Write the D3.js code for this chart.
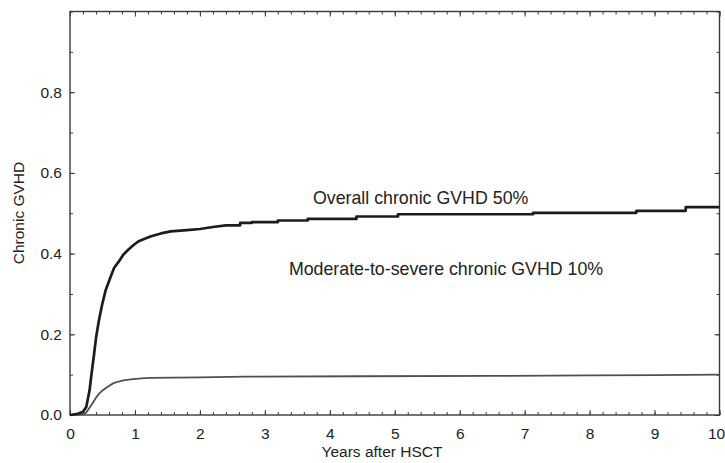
<!DOCTYPE html>
<html>
<head>
<meta charset="utf-8">
<script src="https://cdn.jsdelivr.net/npm/d3@7"></script>
<style>
  html, body { margin: 0; padding: 0; background: #fff; }
  svg text { font-family: "Liberation Sans", Arial, sans-serif; fill: #222; }
</style>
</head>
<body>
<svg id="chart" width="725" height="463"></svg>
<script>
// ---- data ----
const xTicks = [0, 1, 2, 3, 4, 5, 6, 7, 8, 9, 10];
const yTicks = [0.0, 0.2, 0.4, 0.6, 0.8];
const yTickLabels = ["0.0", "0.2", "0.4", "0.6", "0.8"];

// Overall chronic GVHD (years, cumulative incidence); repeated times mark step jumps
const overallTimes = [0, 0.12, 0.2, 0.25, 0.3, 0.33, 0.37, 0.4, 0.44, 0.49, 0.55, 0.62, 0.68, 0.75, 0.82, 0.9, 0.97, 1.05, 1.15, 1.25, 1.4, 1.55, 1.8, 2.0, 2.2, 2.4, 2.62, 2.62, 2.8, 2.8, 3.2, 3.2, 3.66, 3.66, 4.41, 4.41, 5.05, 5.05, 7.13, 7.13, 8.72, 8.72, 9.48, 9.48, 10];
const overallValues = [0, 0.003, 0.008, 0.02, 0.06, 0.10, 0.15, 0.19, 0.23, 0.27, 0.31, 0.34, 0.365, 0.38, 0.397, 0.41, 0.42, 0.43, 0.437, 0.443, 0.45, 0.455, 0.458, 0.461, 0.466, 0.47, 0.47, 0.476, 0.476, 0.478, 0.478, 0.482, 0.482, 0.486, 0.486, 0.492, 0.492, 0.4975, 0.4975, 0.501, 0.501, 0.506, 0.506, 0.515, 0.515];

// Moderate-to-severe chronic GVHD
const modTimes = [0, 0.2, 0.25, 0.3, 0.35, 0.41, 0.46, 0.51, 0.58, 0.67, 0.75, 0.82, 0.97, 1.1, 1.23, 2.0, 2.7, 4.5, 6.5, 8.0, 9.0, 10];
const modValues = [0, 0.002, 0.006, 0.018, 0.03, 0.045, 0.055, 0.062, 0.07, 0.079, 0.083, 0.086, 0.089, 0.091, 0.092, 0.093, 0.095, 0.096, 0.097, 0.098, 0.099, 0.1];

const annotationTexts = ["Overall chronic GVHD 50%", "Moderate-to-severe chronic GVHD 10%"];
const annotationT = [3.74, 3.37];
const annotationV = [0.522, 0.348];

// ---- layout ----
const svg = d3.select("#chart");
const mLeft = 70, mRight = 719.5, mTop = 11.5, mBottom = 415;

const x = d3.scaleLinear().domain([0, 10]).range([mLeft, mRight]);
const y = d3.scaleLinear().domain([0, 1]).range([mBottom, mTop]);

const axisColor = "#3a3a3a";

// minor ticks
const xMinor = d3.range(0, 10.001, 0.2);
const yMinor = d3.range(0, 1.001, 0.1);

function styleAxis(g) {
  g.select(".domain").remove();
  g.selectAll("line").attr("stroke", axisColor).attr("stroke-width", 1);
  g.selectAll("text").attr("fill", "#222").style("font-size", "15.5px")
    .style("font-family", "'Liberation Sans', Arial, sans-serif");
}

// bottom axis
const bottomAxis = svg.append("g").attr("transform", `translate(0,${mBottom})`)
  .call(d3.axisBottom(x).tickValues(xTicks).tickSizeInner(-5).tickSizeOuter(0).tickPadding(13).tickFormat(d3.format("d")))
  .call(styleAxis);
// keep the last label inside the page
bottomAxis.selectAll(".tick text").filter(d => d === 10).attr("dx", -3.5);

svg.append("g").attr("transform", `translate(0,${mBottom})`)
  .call(d3.axisBottom(x).tickValues(xMinor).tickSizeInner(-3).tickSizeOuter(0).tickFormat(""))
  .call(styleAxis);
// top axis ticks
svg.append("g").attr("transform", `translate(0,${mTop})`)
  .call(d3.axisTop(x).tickValues(xTicks).tickSizeInner(-5).tickSizeOuter(0).tickFormat(""))
  .call(styleAxis);
svg.append("g").attr("transform", `translate(0,${mTop})`)
  .call(d3.axisTop(x).tickValues(xMinor).tickSizeInner(-3).tickSizeOuter(0).tickFormat(""))
  .call(styleAxis);
// left axis
svg.append("g").attr("transform", `translate(${mLeft},0)`)
  .call(d3.axisLeft(y).tickValues(yTicks).tickSizeInner(-5).tickSizeOuter(0).tickPadding(8)
    .tickFormat((d, i) => yTickLabels[i]))
  .call(styleAxis);
svg.append("g").attr("transform", `translate(${mLeft},0)`)
  .call(d3.axisLeft(y).tickValues(yMinor).tickSizeInner(-3).tickSizeOuter(0).tickFormat(""))
  .call(styleAxis);
// right axis
svg.append("g").attr("transform", `translate(${mRight},0)`)
  .call(d3.axisRight(y).tickValues(yTicks).tickSizeInner(-5).tickSizeOuter(0).tickFormat(""))
  .call(styleAxis);
svg.append("g").attr("transform", `translate(${mRight},0)`)
  .call(d3.axisRight(y).tickValues(yMinor).tickSizeInner(-3).tickSizeOuter(0).tickFormat(""))
  .call(styleAxis);

// frame
svg.append("rect")
  .attr("x", mLeft).attr("y", mTop)
  .attr("width", mRight - mLeft).attr("height", mBottom - mTop)
  .attr("fill", "none").attr("stroke", axisColor).attr("stroke-width", 1.4);

// curves
const line = d3.line().x(d => x(d[0])).y(d => y(d[1])).curve(d3.curveLinear);

svg.append("path")
  .datum(modTimes.map((t, i) => [t, modValues[i]]))
  .attr("d", line)
  .attr("fill", "none").attr("stroke", "#505050").attr("stroke-width", 1.8)
  .attr("stroke-linejoin", "round");

svg.append("path")
  .datum(overallTimes.map((t, i) => [t, overallValues[i]]))
  .attr("d", line)
  .attr("fill", "none").attr("stroke", "#1c1c1c").attr("stroke-width", 2.7)
  .attr("stroke-linejoin", "round");

// annotations
svg.selectAll("text.ann").data(annotationTexts).enter().append("text")
  .attr("class", "ann")
  .attr("x", (d, i) => x(annotationT[i])).attr("y", (d, i) => y(annotationV[i]))
  .style("font-size", "17.8px")
  .text(d => d);

// axis titles
svg.append("text")
  .attr("x", 382).attr("y", 457)
  .attr("text-anchor", "middle")
  .style("font-size", "15.5px")
  .text("Years after HSCT");

svg.append("text")
  .attr("transform", "translate(24,213) rotate(-90)")
  .attr("text-anchor", "middle")
  .style("font-size", "15.5px")
  .text("Chronic GVHD");
</script>
</body>
</html>
